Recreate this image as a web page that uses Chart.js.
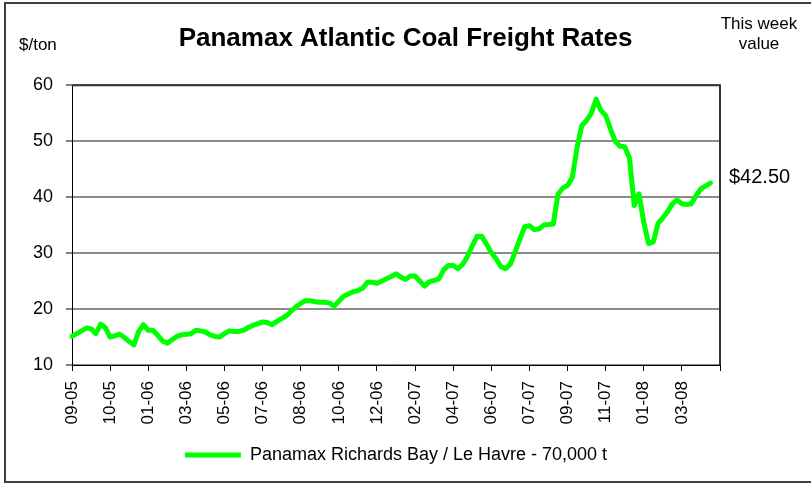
<!DOCTYPE html>
<html>
<head>
<meta charset="utf-8">
<script src="https://cdn.jsdelivr.net/npm/chart.js@4.4.1/dist/chart.umd.min.js"></script>
<style>
  html, body { margin: 0; padding: 0; background: #fff; }
  #wrap { position: relative; width: 811px; height: 485px; font-family: "Liberation Sans", Arial, sans-serif; color: #000; }
  #wrap canvas { position: absolute; left: 0; top: 0; }
  .note { position: absolute; white-space: nowrap; line-height: 1; }
</style>
</head>
<body>
<div id="wrap">
  <canvas id="freightChart" width="811" height="485"></canvas>
  <div class="note" style="left:19px; top:36px; font-size:17px;">$/ton</div>
  <div class="note" style="left:719px; top:14px; font-size:17px; width:80px; text-align:center; line-height:20px;">This week<br>value</div>
  <div class="note" id="lastValue" style="left:729px; top:166px; font-size:20px;"></div>
</div>
<script>
// tick labels every 8 weeks (mm-yy)
const tickLabels = ['09-05', '10-05', '01-06', '03-06', '05-06', '07-06', '08-06', '10-06', '12-06',
  '02-07', '04-07', '06-07', '07-07', '09-07', '11-07', '01-08', '03-08'];
const weeksPerTick = 8;
const weekCount = 137;

// Panamax Richards Bay / Le Havre - 70,000 t, $/ton, weekly
const rates = [
  15.1, 15.6, 16.1, 16.6, 16.5, 15.6, 17.3, 16.7, 15.0, 15.2,
  15.5, 14.9, 14.2, 13.6, 16.0, 17.2, 16.2, 16.2, 15.3, 14.3,
  13.9, 14.5, 15.1, 15.4, 15.5, 15.6, 16.2, 16.1, 15.9, 15.4,
  15.1, 15.0, 15.6, 16.1, 16.0, 16.0, 16.2, 16.7, 17.1, 17.4,
  17.7, 17.6, 17.2, 17.8, 18.3, 18.8, 19.6, 20.4, 21.0, 21.5,
  21.5, 21.3, 21.2, 21.2, 21.1, 20.5, 21.4, 22.3, 22.7, 23.1,
  23.3, 23.7, 24.8, 24.8, 24.6, 25.0, 25.4, 25.8, 26.3, 25.7,
  25.3, 25.9, 25.9, 25.0, 24.1, 24.9, 25.1, 25.4, 27.0, 27.8,
  27.8, 27.2, 28.0, 29.4, 31.3, 33.0, 33.0, 31.6, 30.1, 29.0,
  27.6, 27.2, 28.0, 30.2, 32.5, 34.7, 34.9, 34.2, 34.3, 35.0,
  35.1, 35.2, 40.5, 41.6, 42.1, 43.5, 48.9, 52.8, 53.7, 55.0,
  57.5, 55.5, 54.6, 52.2, 50.0, 49.1, 49.0, 47.0, 38.5, 40.6,
  35.5, 31.7, 32.0, 35.3, 36.3, 37.4, 38.8, 39.5, 38.8, 38.7,
  38.8, 40.3, 41.5, 42.0, 42.5
];

const weeks = Array.from({ length: weekCount }, (_, i) => i);

document.getElementById('lastValue').textContent = '$' + rates[rates.length - 1].toFixed(2);

const frame = {
  id: 'frame',
  afterDraw(chart) {
    const { ctx, chartArea: a } = chart;
    ctx.save();
    // plot area top and right edges
    ctx.strokeStyle = '#333';
    ctx.lineWidth = 2;
    ctx.beginPath();
    ctx.moveTo(a.left, a.top);
    ctx.lineTo(a.right, a.top);
    ctx.lineTo(a.right, a.bottom);
    ctx.stroke();
    // outer chart border
    ctx.strokeStyle = '#404040';
    ctx.strokeRect(5, 3, 820, 479);
    ctx.restore();
  }
};

new Chart(document.getElementById('freightChart'), {
  type: 'line',
  data: {
    labels: weeks,
    datasets: [{
      label: 'Panamax Richards Bay / Le Havre - 70,000 t',
      data: rates,
      borderColor: '#00ff00',
      backgroundColor: '#00ff00',
      borderWidth: 5,
      borderCapStyle: 'round',
      borderJoinStyle: 'round',
      pointRadius: 0,
      pointStyle: 'line',
      tension: 0,
      fill: false
    }]
  },
  options: {
    responsive: false,
    animation: false,
    events: [],
    layout: { padding: { left: 0, right: 0, top: 0, bottom: 11 } },
    plugins: {
      title: {
        display: true,
        text: 'Panamax Atlantic Coal Freight Rates',
        color: '#000',
        font: { family: '"Liberation Sans", Arial, sans-serif', size: 26, weight: 'bold' },
        padding: { top: 23, bottom: 31 }
      },
      legend: {
        display: true,
        position: 'bottom',
        fullSize: false,
        labels: {
          usePointStyle: true,
          pointStyle: 'line',
          pointStyleWidth: 56,
          color: '#000',
          padding: 10,
          font: { family: '"Liberation Sans", Arial, sans-serif', size: 18 }
        }
      },
      tooltip: { enabled: false }
    },
    scales: {
      x: {
        type: 'category',
        offset: false,
        afterFit: s => { s.height = 71; },
        grid: { drawOnChartArea: false, drawTicks: true, tickLength: 6, tickColor: '#000', tickWidth: 1 },
        border: { display: true, color: '#000', width: 1 },
        ticks: {
          autoSkip: false,
          maxRotation: 90,
          minRotation: 90,
          padding: 10,
          color: '#000',
          font: { family: '"Liberation Sans", Arial, sans-serif', size: 17 },
          callback: (value, index) => index % weeksPerTick === 0 ? (tickLabels[index / weeksPerTick] ?? '') : null
        }
      },
      y: {
        min: 10,
        max: 60,
        afterFit: s => { s.width = 72; },
        grid: { color: '#8c8c8c', lineWidth: 2, tickLength: 6, tickColor: '#000', tickWidth: 1 },
        border: { display: true, color: '#000', width: 1 },
        ticks: {
          stepSize: 10,
          padding: 13,
          color: '#000',
          font: { family: '"Liberation Sans", Arial, sans-serif', size: 18 }
        }
      },
      y2: {
        position: 'right',
        display: true,
        afterFit: s => { s.width = 91; },
        grid: { display: false },
        border: { display: false },
        ticks: { display: false }
      }
    }
  },
  plugins: [frame]
});
</script>
</body>
</html>
